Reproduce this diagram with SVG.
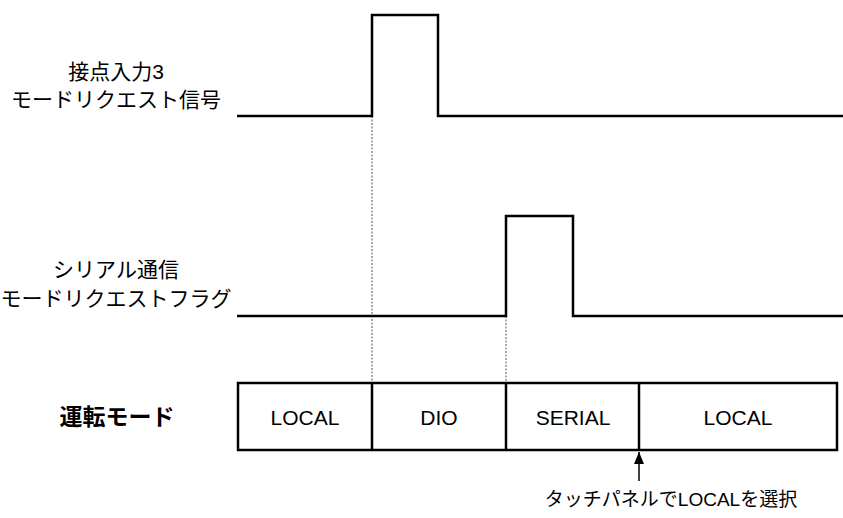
<svg xmlns="http://www.w3.org/2000/svg" width="843" height="518" viewBox="0 0 843 518">
<style>
.sig{fill:none;stroke:#000;stroke-width:2.5}
.dash{fill:none;stroke:#555;stroke-width:1;stroke-dasharray:2,1.5}
.box{fill:#fff;stroke:#000;stroke-width:2.5}
.lbl{font-family:"Liberation Sans","Noto Sans CJK JP",sans-serif;font-size:21px;fill:#000;text-anchor:middle}
.mode{font-family:"Liberation Sans","Noto Sans CJK JP",sans-serif;font-size:21px;fill:#000;text-anchor:middle}
.bold{font-family:"Noto Sans CJK JP",sans-serif;font-size:23px;font-weight:bold;fill:#000;text-anchor:middle}
.note{font-family:"Liberation Sans","Noto Sans CJK JP",sans-serif;font-size:19px;fill:#000;text-anchor:middle}
</style>
<defs>
<marker id="ah" markerWidth="12" markerHeight="10" refX="12" refY="5" orient="auto" markerUnits="userSpaceOnUse">
<path d="M0,0 L12,5 L0,10 Z" fill="#000"/>
</marker>
</defs>
<rect width="843" height="518" fill="#fff"/>
<g id="connectors">
<line class="dash" x1="372" y1="116" x2="372" y2="383"/>
<line class="dash" x1="506" y1="316" x2="506" y2="383"/>
<line x1="639" y1="481" x2="639" y2="452" stroke="#000" stroke-width="1.5" marker-end="url(#ah)"/>
</g>
<g id="signal1">
<text class="lbl" x="116" y="79">接点入力3</text>
<text class="lbl" x="116" y="107">モードリクエスト信号</text>
<polyline class="sig" points="237,116 372,116 372,15 438,15 438,116 843,116"/>
</g>
<g id="signal2">
<text class="lbl" x="116" y="277">シリアル通信</text>
<text class="lbl" x="116" y="306">モードリクエストフラグ</text>
<polyline class="sig" points="237,316 506,316 506,216 573,216 573,316 843,316"/>
</g>
<g id="mode">
<text class="bold" x="117" y="425">運転モード</text>
<rect class="box" x="238" y="383" width="599" height="67"/>
<line class="sig" x1="372" y1="383" x2="372" y2="450"/>
<line class="sig" x1="506" y1="383" x2="506" y2="450"/>
<line class="sig" x1="639" y1="383" x2="639" y2="450"/>
<text class="mode" x="305" y="425">LOCAL</text>
<text class="mode" x="439" y="425">DIO</text>
<text class="mode" x="573" y="425">SERIAL</text>
<text class="mode" x="738" y="425">LOCAL</text>
</g>
<g id="note">
<text class="note" x="671" y="506">タッチパネルでLOCALを選択</text>
</g>
</svg>
